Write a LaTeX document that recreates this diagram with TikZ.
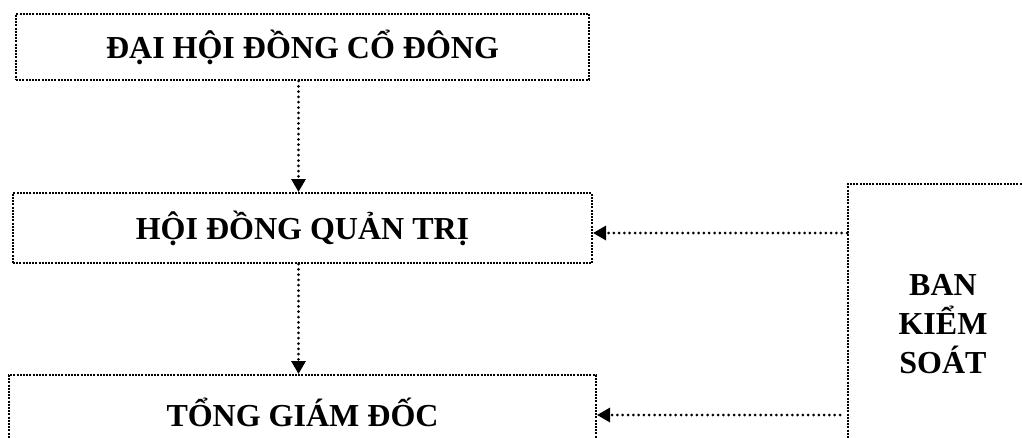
\documentclass[tikz,border=0pt]{standalone}
\usepackage{fontspec}
\setmainfont{Liberation Serif}
\usetikzlibrary{positioning,arrows.meta}

\begin{document}
\begin{tikzpicture}[x=1pt,y=1pt,node distance=110pt,
  box/.style={draw,line width=2pt,dash pattern=on 2pt off 1.2pt,
    inner sep=0pt,align=center,font=\fontsize{32}{39}\selectfont\bfseries},
  link/.style={line width=3pt,line cap=round,dash pattern=on 0pt off 5.3pt,
    -{Triangle[length=13pt,width=14pt]}}]
\useasboundingbox (0,0) rectangle (1022,-437);
\clip (0,0) rectangle (1022,-437);
\node[box,minimum width=573pt,minimum height=66pt] (dhcd) at (302.5,-47) {ĐẠI HỘI ĐỒNG CỔ ĐÔNG};
\node[box,minimum width=579pt,minimum height=70pt,below=111pt of dhcd] (hdqt) {HỘI ĐỒNG QUẢN TRỊ};
\node[box,minimum width=587pt,minimum height=74pt,below=110pt of hdqt] (tgd) {TỔNG GIÁM ĐỐC};
\node[box,anchor=north west,minimum width=190pt,minimum height=280pt] (bks) at (847,-183) {BAN\\KIỂM\\SOÁT};

% luong chi dao
\draw[link] ([xshift=-4pt]dhcd.south) -- ([xshift=-4pt]hdqt.north);
\draw[link] ([xshift=-4pt]hdqt.south) -- ([xshift=-4pt]tgd.north);
% ban kiem soat
\draw[link] ([yshift=-5pt]bks.west |- hdqt.east) -- ([yshift=-5pt]hdqt.east);
\draw[link] ([xshift=-7pt,yshift=-3pt]bks.west |- tgd.east) -- ([yshift=-3pt]tgd.east);
\end{tikzpicture}
\end{document}
